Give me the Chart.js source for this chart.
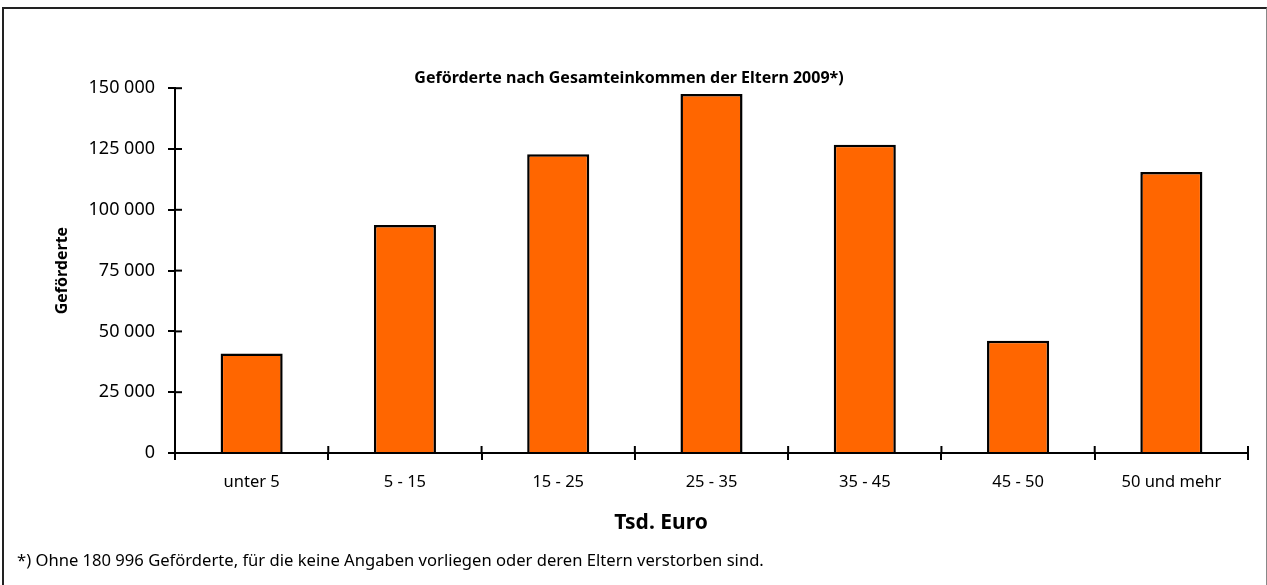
<!DOCTYPE html>
<html>
<head>
<meta charset="utf-8">
<script src="https://cdn.jsdelivr.net/npm/chart.js@4.4.0/dist/chart.umd.min.js"></script>
<style>
  body { margin: 0; background: #fff; font-family: "Noto Sans", sans-serif; color: #000; }
  #frame { position: absolute; left: 2px; top: 7px; width: 1265px; height: 600px; box-sizing: border-box;
           border-left: 2px solid #222; border-top: 2px solid #222; border-right: 1px solid #888; }
  #chart { position: absolute; left: 0; top: 0; }
  #xtitle { position: absolute; left: 561px; top: 508px; width: 200px; text-align: center;
            font-weight: bold; font-size: 21px; line-height: 26px; }
  #note { position: absolute; left: 17px; top: 550px; font-size: 16.6px; line-height: 20px; white-space: nowrap; }
</style>
</head>
<body>
<div id="frame"></div>
<canvas id="chart" width="1267" height="585"></canvas>
<div id="xtitle">Tsd. Euro</div>
<div id="note">*) Ohne 180 996 Geförderte, für die keine Angaben vorliegen oder deren Eltern verstorben sind.</div>
<script>
let categories = ["unter 5", "5 - 15", "15 - 25", "25 - 35", "35 - 45", "45 - 50", "50 und mehr"];
let gefoerderte = [40900, 93700, 122800, 147600, 126700, 46200, 115500];
let yMin = 0;
let yMax = 150000;
let yStep = 25000;

function tausender(v) {
  return String(v).replace(/\B(?=(\d{3})+(?!\d))/g, " ");
}

// kleine Striche auch nach innen, wie im Original
const innerTicks = {
  id: "innerTicks",
  afterDatasetsDraw(chart) {
    const { ctx, scales: { x, y } } = chart;
    ctx.save();
    ctx.strokeStyle = "#000";
    ctx.lineWidth = 2;
    y.ticks.forEach((t, i) => {
      const py = y.getPixelForTick(i);
      ctx.beginPath();
      ctx.moveTo(y.right, py);
      ctx.lineTo(y.right + 7, py);
      ctx.stroke();
    });
    for (let i = 0; i <= categories.length; i++) {
      const px = x.getPixelForValue(i - 0.5);
      ctx.beginPath();
      ctx.moveTo(px, x.top);
      ctx.lineTo(px, x.top - 7);
      ctx.stroke();
    }
    ctx.restore();
  },
};

const ctx = document.getElementById("chart");
const myChart = new Chart(ctx, {
  type: "bar",
  data: {
    labels: categories,
    datasets: [
      {
        label: "Geförderte",
        data: gefoerderte,
        backgroundColor: "#FF6600",
        borderColor: "#000",
        borderWidth: 2.5,
        barPercentage: 0.405,
        categoryPercentage: 1.0,
      },
    ],
  },
  options: {
    responsive: false,
    animation: false,
    devicePixelRatio: 1,
    layout: { padding: { left: 10, right: 19, top: 69, bottom: 0 } },
    plugins: {
      legend: { display: false },
      tooltip: { enabled: false },
      title: {
        display: true,
        text: "Geförderte nach Gesamteinkommen der Eltern 2009*)",
        color: "#000",
        font: { family: "Noto Sans", size: 16, weight: "bold" },
        padding: 0,
      },
    },
    scales: {
      x: {
        grid: { drawOnChartArea: false, color: "#000", lineWidth: 2, tickLength: 7, offset: true },
        border: { color: "#000", width: 2 },
        ticks: { color: "#000", padding: 12, font: { family: "Noto Sans", size: 16.5 } },
        afterFit(scale) {
          scale.height = 132;
        },
      },
      y: {
        min: yMin,
        max: yMax,
        grid: { drawOnChartArea: false, color: "#000", lineWidth: 2, tickLength: 7 },
        border: { color: "#000", width: 2 },
        ticks: {
          stepSize: yStep,
          color: "#000",
          padding: 13,
          font: { family: "Noto Sans", size: 18 },
          callback: (v) => tausender(v),
        },
        title: {
          display: true,
          text: "Geförderte",
          color: "#000",
          font: { family: "Noto Sans", size: 16, weight: "bold" },
          padding: { top: 43, bottom: 0 },
        },
        afterFit(scale) {
          scale.width = 165;
        },
      },
    },
  },
  plugins: [innerTicks],
});
</script>
</body>
</html>
